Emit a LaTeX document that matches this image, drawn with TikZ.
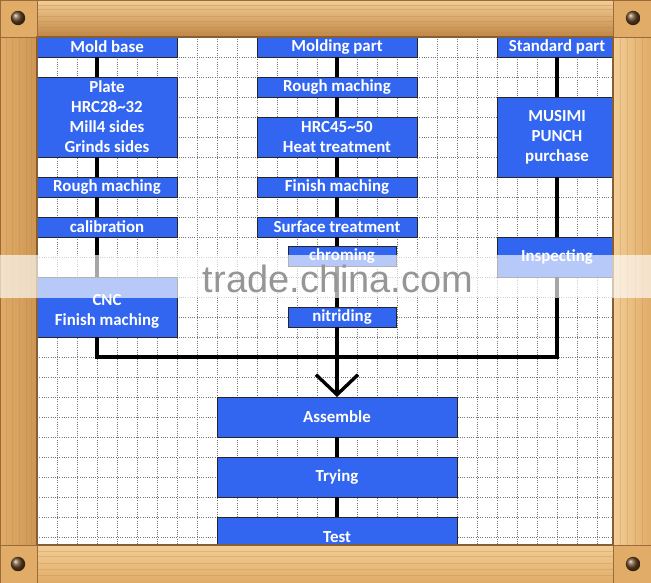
\documentclass[tikz,border=0pt]{standalone}
\usepackage{fontspec}
\setsansfont{Carlito}
\newfontfamily\markfont{Liberation Sans}
\usepackage{tikz}
\usetikzlibrary{arrows.meta}
\definecolor{cblue}{RGB}{51,102,240}
\definecolor{cwood}{RGB}{224,172,104}
\definecolor{cwoodlt}{RGB}{242,206,150}
\definecolor{cwooddk}{RGB}{192,134,70}
\definecolor{cgrid}{RGB}{120,120,120}
\definecolor{cmark}{RGB}{150,150,150}

\begin{document}
\begin{tikzpicture}[x=0.025cm, y=-0.025cm,
  stage/.style={draw=black!85, line width=0.6pt, fill=cblue, text=white,
    font={\sffamily\bfseries\fontsize{12}{14.2}\selectfont},
    align=center, inner sep=0pt, outer sep=0pt, minimum height=0.5cm},
  leftstage/.style={stage, minimum width=3.5cm},
  midstage/.style={stage, minimum width=4cm},
  substage/.style={stage, minimum width=2.7cm},
  rightstage/.style={stage, minimum width=3cm},
  finalstage/.style={stage, minimum width=6cm, minimum height=1cm},
  link/.style={line width=2.4pt, black},
  gridline/.style={cgrid, line width=0.45pt, dash pattern=on 0.7pt off 0.9pt}]
  \useasboundingbox (0,0) rectangle (651,583);

  % grid paper
  \fill[white] (37,37) rectangle (613,545);
  \foreach \gx in {57,77,...,597}
    \draw[gridline] (\gx,37) -- (\gx,545);
  \foreach \gy in {57,77,...,537}
    \draw[gridline] (37,\gy) -- (613,\gy);

  \coordinate (lcol) at (97,0);
  \coordinate (mcol) at (337,0);
  \coordinate (rcol) at (557,0);
  \coordinate (merge) at (337,357);

  % mold base column
  \node[leftstage] (moldbase) at (107,47) {Mold base};
  \node[leftstage, minimum height=2cm] (plate) at (107,117) {Plate\\HRC28\textasciitilde32\\Mill4 sides\\Grinds sides};
  \node[leftstage] (roughL) at (107,187) {Rough maching};
  \node[leftstage] (calib) at (107,227) {calibration};
  \node[leftstage, minimum height=1.5cm] (cnc) at (107,307) {\mbox{}\\CNC\\Finish maching};

  % molding part column
  \node[midstage] (molding) at (337,47) {Molding part};
  \node[midstage] (roughM) at (337,87) {Rough maching};
  \node[midstage, minimum height=1cm] (heat) at (337,137) {HRC45\textasciitilde50\\Heat treatment};
  \node[midstage] (finishM) at (337,187) {Finish maching};
  \node[midstage] (surface) at (337,227) {Surface treatment};
  \node[substage] (chrome) at (342,256) {chroming};
  \node[substage] (nitride) at (342,317) {nitriding};

  % standard part column
  \node[rightstage] (standard) at (557,47) {Standard part};
  \node[rightstage, minimum height=2cm] (musimi) at (557,137) {MUSIMI\\PUNCH\\purchase};
  \node[rightstage, minimum height=1cm] (inspect) at (557,257) {Inspecting};

  % final steps
  \node[finalstage] (assemble) at (337,417) {Assemble};
  \node[finalstage] (trying) at (337,477) {Trying};
  \node[finalstage] (test) at (337,537) {Test};

  \foreach \a/\b in {moldbase/plate, plate/roughL, roughL/calib, calib/cnc}
    \draw[link] (\a.south -| lcol) -- (\b.north -| lcol);
  \foreach \a/\b in {molding/roughM, roughM/heat, heat/finishM, finishM/surface, surface/chrome, chrome/nitride}
    \draw[link] (\a.south -| mcol) -- (\b.north -| mcol);
  \foreach \a/\b in {standard/musimi, musimi/inspect}
    \draw[link] (\a.south -| rcol) -- (\b.north -| rcol);
  \draw[link] (cnc.south -| lcol) |- (merge) -| (inspect.south -| rcol);
  \draw[link] (nitride.south -| mcol) -- (merge);
  \draw[link, -{Straight Barb[length=5mm, width=10.5mm]}] (merge) -- (assemble.north);
  \draw[link] (assemble) -- (trying);
  \draw[link] (trying) -- (test);

  % wooden frame
  \shade[top color=cwoodlt, bottom color=cwooddk] (37,0) rectangle (613,37);
  \shade[top color=cwoodlt, bottom color=cwood] (37,545) rectangle (613,583);
  \shade[left color=cwood, right color=cwooddk!60!cwood] (0,37) rectangle (37,545);
  \shade[left color=cwoodlt, right color=cwood] (613,37) rectangle (651,545);
  \fill[cwood] (0,0) rectangle (37,37);
  \fill[cwood] (613,0) rectangle (651,37);
  \fill[cwood] (0,545) rectangle (37,583);
  \fill[cwood] (613,545) rectangle (651,583);
  \foreach \gy in {5,9,16,21,27,32}
    \draw[cwooddk, opacity=0.35, line width=0.6pt] (37,\gy) -- (613,\gy);
  \foreach \gy in {551,556,563,569,575}
    \draw[cwooddk, opacity=0.3, line width=0.6pt] (37,\gy) -- (613,\gy);
  \foreach \gx in {6,12,19,26,31}
    \draw[cwooddk, opacity=0.3, line width=0.6pt] (\gx,37) -- (\gx,545);
  \foreach \gx in {620,627,635,642}
    \draw[cwooddk, opacity=0.3, line width=0.6pt] (\gx,37) -- (\gx,545);
  \draw[cwooddk!70!black, line width=0.8pt] (37,37) rectangle (613,545);
  \draw[cwooddk!80!black, line width=0.5pt] (37,0) -- (37,37) -- (0,37)
    (613,0) -- (613,37) -- (651,37)
    (0,545) -- (37,545) -- (37,583)
    (651,545) -- (613,545) -- (613,583);
  \draw[cwooddk!80!black, line width=0.6pt] (0,0) rectangle (651,583);
  \foreach \sx/\sy in {18/18, 633/18, 18/564, 633/564}
    \shade[ball color=brown!55!black] (\sx,\sy) circle[radius=0.18cm];

  % watermark band
  \fill[white, opacity=0.65] (0,255) rectangle (651,298);
  \node[font={\markfont\fontsize{27}{27}\selectfont}, text=cmark, anchor=base, inner sep=0pt] (mark) at (338,292) {trade.china.com};
\end{tikzpicture}
\end{document}
